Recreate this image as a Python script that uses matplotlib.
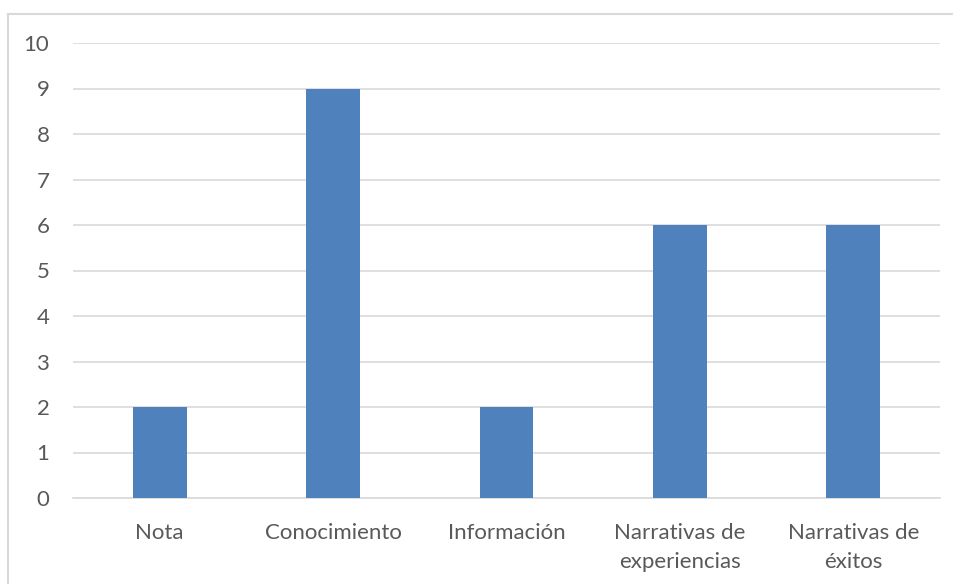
import matplotlib.pyplot as plt
from matplotlib.lines import Line2D

categories = ["Nota", "Conocimiento", "Información",
              "Narrativas de\nexperiencias", "Narrativas de\néxitos"]
values = [2, 9, 2, 6, 6]
yticks = list(range(0, 11))

plt.rcParams['font.family'] = ['Lato', 'DejaVu Sans']
text_color = "#595959"

fig = plt.figure(figsize=(9.54, 5.84), dpi=100)
ax = fig.add_axes([73 / 954, 1 - 498 / 584, (940 - 73) / 954, (498 - 43) / 584])

x = range(len(categories))
ax.bar(x, values, width=0.31, color="#4F81BD", zorder=3)

ax.set_xlim(-0.5, len(categories) - 0.5)
ax.set_ylim(0, 10)
ax.set_yticks(yticks)
ax.set_xticks(list(x))
ax.set_xticklabels(categories, fontsize=16, color=text_color, linespacing=1.55)
ax.tick_params(axis='y', labelsize=16, labelcolor=text_color, length=0, pad=17)
ax.tick_params(axis='x', length=0, pad=18)
ax.grid(axis='y', color="#D9D9D9", linewidth=1.2, zorder=0)
for side in ("top", "right", "left"):
    ax.spines[side].set_visible(False)
ax.spines["bottom"].set_color("#D9D9D9")
ax.spines["bottom"].set_linewidth(1.2)

# chart area frame (top and left edges visible)
fig.add_artist(Line2D([8.5 / 954, 1], [1 - 13.5 / 584, 1 - 13.5 / 584],
                      transform=fig.transFigure, color="#D9D9D9", linewidth=1.5))
fig.add_artist(Line2D([8.5 / 954, 8.5 / 954], [0, 1 - 13.5 / 584],
                      transform=fig.transFigure, color="#D9D9D9", linewidth=1.5))

fig.savefig("out.png", dpi=100)
